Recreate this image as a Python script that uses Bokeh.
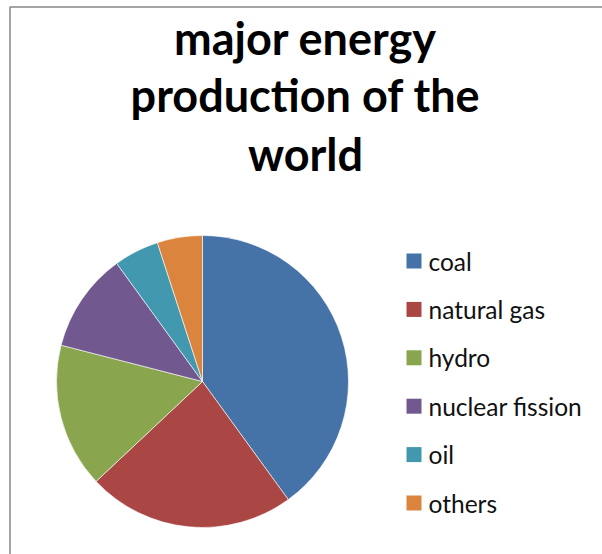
import math

from bokeh.core.properties import value
from bokeh.embed import file_html
from bokeh.models import ColumnDataSource, Range1d
from bokeh.plotting import figure
from bokeh.resources import INLINE

# Share of world energy production, percent
sources = ["coal", "natural gas", "hydro", "nuclear fission", "oil", "others"]
shares = [40, 23, 16, 11, 5, 5]
colors = ["#4572A7", "#AA4643", "#89A54E", "#71588F", "#4198AF", "#DB843D"]
title_lines = ["major energy", "production of the", "world"]

W, H = 602, 554

def sy(y):
    # page pixel row -> data y (data y grows upward)
    return H - y

# Pie geometry (page pixels)
cx, cy, r = 202, 381, 146

total = sum(shares)
starts, ends = [], []
acc = 0.0
for s in shares:
    starts.append(math.pi / 2 - 2 * math.pi * acc / total)
    acc += s
    ends.append(math.pi / 2 - 2 * math.pi * acc / total)

pie = ColumnDataSource(dict(
    source=sources, share=shares, color=colors,
    start=starts, end=ends,
))

p = figure(
    width=W, height=H, output_backend="svg", toolbar_location=None,
    x_range=Range1d(0, W), y_range=Range1d(0, H),
    x_axis_location=None, y_axis_location=None, min_border=0,
)
p.grid.visible = False
p.outline_line_color = None
p.background_fill_color = "white"
p.border_fill_color = "white"

# Chart-area frame (left and top edges fall inside the page)
p.line(x=[9.5, 9.5, W + 5], y=[sy(H + 5), sy(6.5), sy(6.5)],
       line_color="#878787", line_width=1.5)

# Title
title_font = value("Lato")
for line, yb in zip(title_lines, [37, 94, 153]):
    p.text(x=[305], y=[sy(yb)], text=[line], text_font=title_font,
           text_font_style="bold", text_font_size="45px",
           text_align="center", text_baseline="alphabetic", text_color="black")

# Pie slices, clockwise from 12 o'clock
p.wedge(x=cx, y=sy(cy), radius=r, start_angle="start", end_angle="end",
        direction="clock", fill_color="color", line_color="white",
        line_width=0.6, source=pie)

# Legend
leg_x, leg_y0, leg_dy = 413.5, 260.5, 48.4
leg_ys = [sy(leg_y0 + i * leg_dy) for i in range(len(sources))]
leg = ColumnDataSource(dict(y=leg_ys, source=sources, color=colors))
p.rect(x=leg_x, y="y", width=15, height=15, fill_color="color",
       line_color=None, source=leg)
p.text(x=leg_x + 14.5, y="y", text="source", text_font=value("Lato"),
       text_font_size="24.5px", text_baseline="middle", text_align="left",
       text_color="#111111", source=leg)

open("out.html", "w").write(file_html(p, INLINE))
